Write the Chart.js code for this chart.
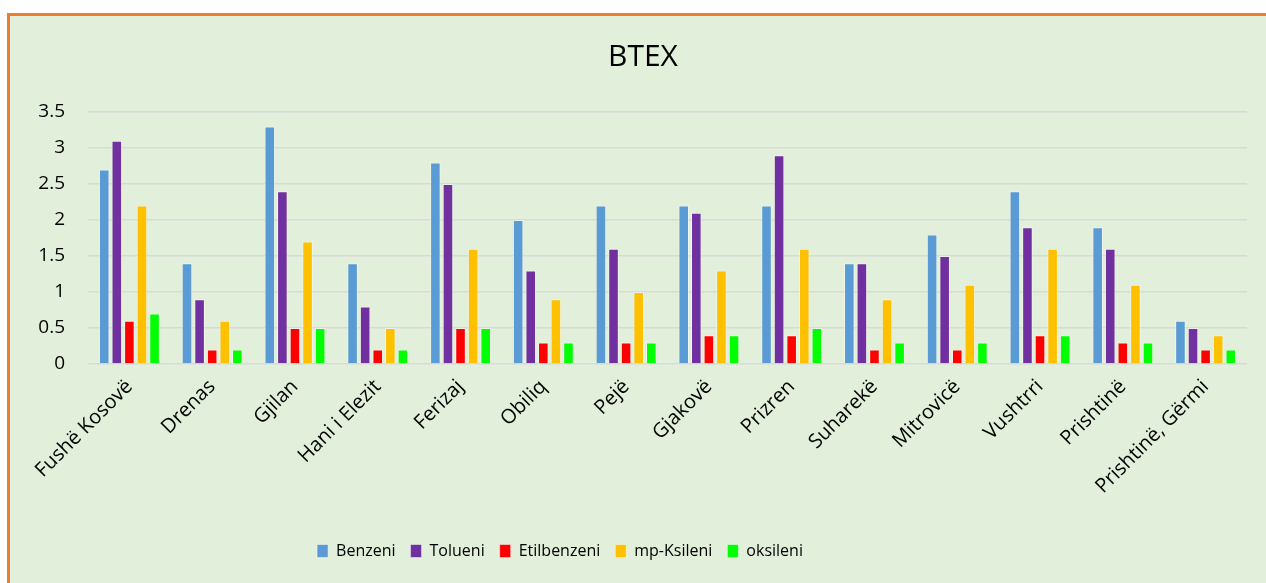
<!DOCTYPE html>
<html>
<head>
<meta charset="utf-8">
<title>BTEX</title>
<script src="https://cdn.jsdelivr.net/npm/chart.js@4.4.1/dist/chart.umd.min.js"></script>
<style>
  body { margin: 0; background: #fff; overflow: hidden; }
  #frame {
    position: absolute; left: 7px; top: 13px;
    width: 1300px; height: 620px;
    border: 3px solid #ED7D31; background: #E2EFDA;
  }
  #BTEX { position: absolute; left: 0; top: 0; }
</style>
</head>
<body>
<div id="frame"></div>
<canvas id="BTEX" width="1266" height="583"></canvas>
<script>
// sampling sites
var sites = ['Fushë Kosovë', 'Drenas', 'Gjilan', 'Hani i Elezit', 'Ferizaj', 'Obiliq', 'Pejë',
             'Gjakovë', 'Prizren', 'Suharekë', 'Mitrovicë', 'Vushtrri', 'Prishtinë', 'Prishtinë, Gërmi'];

var benzeni     = [2.7, 1.4, 3.3, 1.4, 2.8, 2.0, 2.2, 2.2, 2.2, 1.4, 1.8, 2.4, 1.9, 0.6];
var tolueni     = [3.1, 0.9, 2.4, 0.8, 2.5, 1.3, 1.6, 2.1, 2.9, 1.4, 1.5, 1.9, 1.6, 0.5];
var etilbenzeni = [0.6, 0.2, 0.5, 0.2, 0.5, 0.3, 0.3, 0.4, 0.4, 0.2, 0.2, 0.4, 0.3, 0.2];
var mpKsileni   = [2.2, 0.6, 1.7, 0.5, 1.6, 0.9, 1.0, 1.3, 1.6, 0.9, 1.1, 1.6, 1.1, 0.4];
var oksileni    = [0.7, 0.2, 0.5, 0.2, 0.5, 0.3, 0.3, 0.4, 0.5, 0.3, 0.3, 0.4, 0.3, 0.2];

var font = 'Open Sans';

// excel centres the legend on its own, move it left a bit
var shiftLegend = {
    id: 'shiftLegend',
    afterLayout: function (chart) {
        chart.legend.left -= 83;
        chart.legend.right -= 83;
    }
};

function series(label, data, color) {
    return {
        label: label,
        data: data,
        backgroundColor: color,
        borderColor: 'rgba(255, 255, 255, 0.45)',
        borderWidth: 1,
        categoryPercentage: 0.76,
        barPercentage: 0.84
    };
}

var ctx = document.getElementById('BTEX').getContext('2d');
var chart = new Chart(ctx, {
    type: 'bar',
    data: {
        labels: sites,
        datasets: [
            series('Benzeni', benzeni, '#5B9BD5'),
            series('Tolueni', tolueni, '#7030A0'),
            series('Etilbenzeni', etilbenzeni, '#FF0000'),
            series('mp-Ksileni', mpKsileni, '#FFC000'),
            series('oksileni', oksileni, '#00FF00')
        ]
    },
    plugins: [shiftLegend],
    options: {
        responsive: false,
        maintainAspectRatio: false,
        animation: false,
        layout: { padding: { left: 39, right: 19, top: 0, bottom: 14 } },
        plugins: {
            title: {
                display: true,
                text: 'BTEX',
                color: '#000',
                font: { family: font, size: 30, weight: 'normal' },
                padding: { top: 39, bottom: 37 }
            },
            legend: {
                position: 'bottom',
                labels: {
                    color: '#000',
                    font: { family: font, size: 16 },
                    boxWidth: 11,
                    boxHeight: 13,
                    padding: 15
                }
            },
            tooltip: { enabled: false }
        },
        scales: {
            x: {
                grid: { display: false },
                border: { display: false },
                ticks: {
                    color: '#000',
                    font: { family: font, size: 20 },
                    minRotation: 45,
                    maxRotation: 45,
                    autoSkip: false,
                    padding: 3
                },
                afterFit: function (scale) { scale.height = 164; }
            },
            y: {
                min: 0,
                max: 3.5,
                grid: { color: '#D9D9D9', lineWidth: 1.5, drawTicks: false },
                border: { display: false },
                ticks: {
                    stepSize: 0.5,
                    color: '#000',
                    font: { family: font, size: 19 },
                    padding: 23,
                    callback: function (v) { return v; }
                },
                afterFit: function (scale) { scale.width = 49; }
            }
        }
    }
});
</script>
</body>
</html>
